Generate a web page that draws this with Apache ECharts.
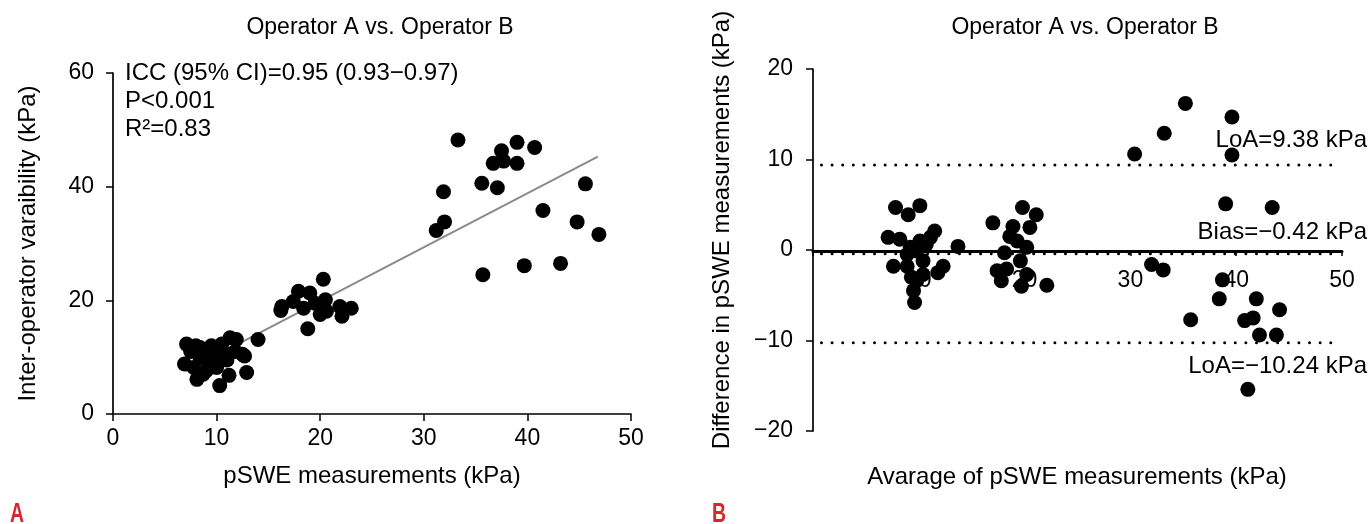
<!DOCTYPE html>
<html>
<head>
<meta charset="utf-8">
<script src="https://cdn.jsdelivr.net/npm/echarts@6/dist/echarts.min.js"></script>
<style>
  html, body { margin: 0; padding: 0; background: #fff; }
  #chart { width: 1370px; height: 524px; }
</style>
</head>
<body>
<div id="chart"></div>
<script>
// panel A: pSWE measurement vs inter-operator variability
const pointsA = [
  [33.3, 48.2], [31.9, 39.1], [32.0, 33.8], [31.2, 32.3], [35.6, 40.6],
  [37.1, 39.8], [36.7, 44.1], [37.5, 46.3], [37.7, 44.5], [39.0, 44.1],
  [39.0, 47.8], [40.7, 46.9], [45.6, 40.5], [41.5, 35.8], [44.8, 33.8],
  [46.9, 31.6], [35.7, 24.5], [39.7, 26.1], [43.2, 26.5],
  [20.3, 23.7], [17.9, 21.6], [19.0, 21.3], [16.3, 18.9], [17.4, 19.8],
  [18.4, 18.6], [19.5, 19.5], [20.5, 20.1], [20.6, 18.1], [21.9, 18.9],
  [23.0, 18.6], [22.1, 17.2], [20.0, 17.5], [18.8, 15.0], [16.2, 18.2],
  [7.1, 12.3], [6.9, 8.8], [8.1, 6.1], [10.3, 5.0], [11.2, 6.8],
  [12.9, 7.3], [14.0, 13.1], [11.3, 13.4], [11.9, 13.1], [12.7, 10.2],
  [8.4, 11.7], [9.0, 10.8], [9.7, 10.5], [10.3, 11.1], [8.4, 9.9],
  [9.4, 8.8], [10.3, 9.3], [11.0, 10.5], [9.0, 7.6], [10.0, 8.2],
  [7.8, 8.2], [8.7, 7.0], [8.0, 12.0], [9.5, 12.0], [10.5, 12.3],
  [11.8, 11.0], [12.5, 10.5], [9.2, 9.5], [10.0, 10.0], [11.0, 9.5],
  [7.5, 11.0]
]
const fitLineA = [[7, 7.5], [46.8, 45.3]]

// panel B: Bland-Altman
const pointsB = [
  [35.2, 16.2], [39.6, 14.7], [33.2, 12.9], [30.4, 10.6], [39.6, 10.5],
  [39.0, 5.1], [43.4, 4.7], [32.0, -1.6], [33.1, -2.2], [38.7, -3.3],
  [38.4, -5.4], [41.9, -5.4], [44.1, -6.6], [35.7, -7.7], [40.8, -7.8],
  [41.6, -7.5], [42.2, -9.4], [43.8, -9.4], [41.1, -15.4],
  [7.8, 4.7], [9.0, 3.9], [10.1, 4.9], [7.1, 1.4], [8.2, 1.2],
  [11.5, 2.1], [13.7, 0.4], [7.6, -1.8], [12.3, -1.8], [9.6, -5.8],
  [9.5, -4.5], [9.8, -3.4], [9.3, -3.0], [10.4, -2.7], [11.8, -2.5],
  [8.9, -0.5], [9.8, -0.1], [10.7, 0.6], [8.9, -1.8], [10.4, -1.2],
  [11.1, 1.4], [10.1, 1.0], [9.2, 0.3],
  [17.0, 3.0], [19.8, 4.7], [21.1, 3.9], [20.5, 2.5], [18.9, 2.6],
  [18.6, 1.5], [19.3, 1.0], [20.2, 0.3], [18.1, -0.3], [19.6, -1.2],
  [17.4, -2.3], [18.3, -2.1], [17.8, -3.4], [20.2, -2.7], [19.7, -4.0],
  [22.1, -3.9]
]
const upperLoA = 9.38
const bias = -0.42
const lowerLoA = -10.24
const limitRangeX = [0.8, 49.4]

const FONT = 'Liberation Sans, Arial, sans-serif'
const minus = v => String(v).replace('-', '\u2212')
const dotted = { color: '#000', width: 3, type: [0.01, 10.6], cap: 'round' }
const flat = y => limitRangeX.map(x => [x, y])

const chart = echarts.init(document.getElementById('chart'))

const axisCommon = {
  axisLine: { lineStyle: { color: '#000', width: 1.7 } },
  axisTick: { length: 7, lineStyle: { color: '#000', width: 1.5 } },
  splitLine: { show: false },
  axisLabel: { color: '#000', fontSize: 23, fontFamily: FONT }
}
const txt = { fontSize: 24, fontFamily: FONT, fill: '#000' }

chart.setOption({
  animation: false,
  textStyle: { fontFamily: FONT },
  title: [
    { text: 'Operator A vs. Operator B', left: 375, top: 11, textAlign: 'center',
      textStyle: { fontSize: 23, fontWeight: 'normal', color: '#000', fontFamily: FONT } },
    { text: 'Operator A vs. Operator B', left: 1080, top: 11, textAlign: 'center',
      textStyle: { fontSize: 23, fontWeight: 'normal', color: '#000', fontFamily: FONT } }
  ],
  grid: [
    { left: 113, top: 73, width: 518, height: 341 },
    { left: 813, top: 69, width: 529, height: 362 }
  ],
  xAxis: [
    Object.assign({}, axisCommon, {
      gridIndex: 0, type: 'value', min: 0, max: 50, interval: 10,
      name: 'pSWE measurements (kPa)', nameLocation: 'middle', nameGap: 50,
      nameTextStyle: { color: '#000', fontSize: 24, fontFamily: FONT },
      axisLabel: Object.assign({}, axisCommon.axisLabel, { margin: 13 })
    }),
    Object.assign({}, axisCommon, {
      gridIndex: 1, type: 'value', min: 0, max: 50, interval: 10,
      offset: -180,
      axisLine: { onZero: false, lineStyle: { color: '#000', width: 3 } },
      axisTick: { length: 5, lineStyle: { color: '#000', width: 1.5 } },
      axisLabel: Object.assign({}, axisCommon.axisLabel, {
        margin: 18, formatter: v => (v === 0 ? '' : v)
      })
    })
  ],
  yAxis: [
    Object.assign({}, axisCommon, {
      gridIndex: 0, type: 'value', min: 0, max: 60, interval: 20,
      name: 'Inter-operator varaibility (kPa)', nameLocation: 'middle', nameGap: 73,
      nameTextStyle: { color: '#000', fontSize: 24, fontFamily: FONT },
      axisLabel: Object.assign({}, axisCommon.axisLabel, { margin: 19 })
    }),
    Object.assign({}, axisCommon, {
      gridIndex: 1, type: 'value', min: -20, max: 20, interval: 10,
      axisLabel: Object.assign({}, axisCommon.axisLabel, { margin: 20, formatter: minus })
    })
  ],
  series: [
    {
      type: 'line', xAxisIndex: 0, yAxisIndex: 0, data: fitLineA, symbol: 'none',
      lineStyle: { color: '#8a8a8a', width: 2 }, z: 1
    },
    {
      type: 'scatter', xAxisIndex: 0, yAxisIndex: 0, data: pointsA,
      symbolSize: 15, itemStyle: { color: '#000', opacity: 1 }
    },
    {
      type: 'line', xAxisIndex: 1, yAxisIndex: 1, data: flat(upperLoA), symbol: 'none',
      lineStyle: dotted
    },
    {
      type: 'line', xAxisIndex: 1, yAxisIndex: 1, data: flat(bias), symbol: 'none',
      lineStyle: dotted
    },
    {
      type: 'line', xAxisIndex: 1, yAxisIndex: 1, data: flat(lowerLoA), symbol: 'none',
      lineStyle: dotted
    },
    {
      type: 'scatter', xAxisIndex: 1, yAxisIndex: 1, data: pointsB,
      symbolSize: 15, itemStyle: { color: '#000', opacity: 1 }, z: 3
    }
  ],
  graphic: [
    { type: 'text', left: 125, top: 61,
      style: Object.assign({ text: 'ICC (95% CI)=0.95 (0.93\u22120.97)' }, txt) },
    { type: 'text', left: 125, top: 89,
      style: Object.assign({ text: 'P<0.001' }, txt) },
    { type: 'text', left: 125, top: 117,
      style: Object.assign({ text: 'R\u00b2=0.83' }, txt) },
    { type: 'text', x: 1367, y: 140, z: 10,
      style: Object.assign({ text: 'LoA=9.38 kPa', align: 'right', verticalAlign: 'middle' }, txt) },
    { type: 'text', x: 1367, y: 232, z: 10,
      style: Object.assign({ text: 'Bias=\u22120.42 kPa', align: 'right', verticalAlign: 'middle' }, txt) },
    { type: 'text', x: 1367, y: 366, z: 10,
      style: Object.assign({ text: 'LoA=\u221210.24 kPa', align: 'right', verticalAlign: 'middle' }, txt) },
    { type: 'text', x: 1077, y: 477,
      style: Object.assign({ text: 'Avarage of pSWE measurements (kPa)', align: 'center', verticalAlign: 'middle' }, txt) },
    { type: 'text', x: 722, y: 230, rotation: Math.PI / 2,
      style: Object.assign({ text: 'Difference in pSWE measurements (kPa)', align: 'center', verticalAlign: 'middle' }, txt) },
    { type: 'text', x: 10, y: 501, scaleX: 0.72,
      style: { text: 'A', fontSize: 27, fontWeight: 'bold', fontFamily: FONT, fill: '#d7262e' } },
    { type: 'text', x: 712, y: 501, scaleX: 0.72,
      style: { text: 'B', fontSize: 27, fontWeight: 'bold', fontFamily: FONT, fill: '#d7262e' } }
  ]
})
</script>
</body>
</html>
